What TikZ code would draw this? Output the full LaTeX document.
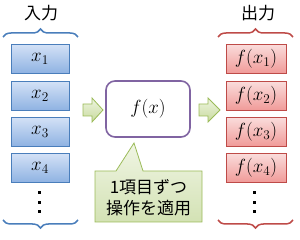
\RequirePackage{fix-cm}
\documentclass[tikz,border=0pt]{standalone}
\usepackage{fontspec}
\newfontfamily\jp{Noto Sans CJK JP}
\usetikzlibrary{decorations.pathreplacing}
\definecolor{bluebd}{HTML}{4A7EBB}
\definecolor{bluetop}{HTML}{D3E1F6}
\definecolor{bluebot}{HTML}{8EB2E2}
\definecolor{redbd}{HTML}{BE4B48}
\definecolor{redtop}{HTML}{FADCDB}
\definecolor{redbot}{HTML}{F09A98}
\definecolor{purplebd}{HTML}{8064A2}
\definecolor{greenbd}{HTML}{9BBB59}
\definecolor{greentop}{HTML}{F0F5E4}
\definecolor{greenbot}{HTML}{D3E2B4}
\definecolor{arrtop}{HTML}{EEF4E0}
\definecolor{arrbot}{HTML}{C8DB9E}
\begin{document}
\begin{tikzpicture}[x=1pt,y=1pt,
  inbox/.style={draw=bluebd, line width=0.8pt, top color=bluetop, bottom color=bluebot,
    minimum width=58pt, minimum height=29pt, inner sep=0pt, font=\fontsize{19}{19}\selectfont},
  outbox/.style={draw=redbd, line width=0.8pt, top color=redtop, bottom color=redbot,
    minimum width=60pt, minimum height=29pt, inner sep=0pt, font=\fontsize{19}{19}\selectfont},
  heading/.style={font=\jp\fontsize{17}{17}\selectfont, inner sep=0pt},
  bracestyle/.style={decorate, decoration={brace, amplitude=8pt}, line width=1.5pt},
  blockarrow/.style={draw=greenbd, line width=0.8pt, top color=arrtop, bottom color=arrbot, line join=miter}
]
\useasboundingbox (0,0) rectangle (300,-240);

% headings
\node[heading] (inh) at (41,-13) {入力};
\node[heading] (outh) at (258,-13) {出力};

% braces
\draw[bracestyle, draw=bluebd] (3,-37) -- (78,-37);
\draw[bracestyle, draw=bluebd] (78,-220) -- (3,-220);
\draw[bracestyle, draw=redbd] (218,-37) -- (293,-37);
\draw[bracestyle, draw=redbd] (293,-220) -- (218,-220);

% input boxes
\node[inbox] (x1) at (40,-59) {$x_1$};
\node[inbox] (x2) at (40,-96) {$x_2$};
\node[inbox] (x3) at (40,-132) {$x_3$};
\node[inbox] (x4) at (40,-168) {$x_4$};

% output boxes
\node[outbox] (y1) at (256,-59) {$f(x_1)$};
\node[outbox] (y2) at (256,-96) {$f(x_2)$};
\node[outbox] (y3) at (256,-132) {$f(x_3)$};
\node[outbox] (y4) at (256,-168) {$f(x_4)$};

% dots
\foreach \yy in {193,203,212} {
  \fill (37.5,-\yy-1.5) rectangle ++(3,3);
  \fill (252.5,-\yy-1.5) rectangle ++(3,3);
}

% function box
\node[draw=purplebd, line width=1.6pt, rounded corners=9pt, fill=white,
  minimum width=84pt, minimum height=56pt, font=\fontsize{19}{19}\selectfont] (fx) at (148,-109) {$f(x)$};

% block arrows
\path[blockarrow] (83,-104) -- (92,-104) -- (92,-98) -- (103,-110) -- (92,-122) -- (92,-116) -- (83,-116) -- cycle;
\path[blockarrow] (199,-104) -- (208,-104) -- (208,-98) -- (220,-110) -- (208,-122) -- (208,-116) -- (199,-116) -- cycle;

% callout
\coordinate (tip) at (134,-143);
\path[draw=greenbd, line width=0.8pt, top color=greentop, bottom color=greenbot, line join=miter]
  (95,-171) -- (116,-171) -- (tip) -- (143,-171) -- (202,-171) -- (202,-222) -- (95,-222) -- cycle;
\node[align=center, font=\jp\fontsize{17}{21}\selectfont, inner sep=0pt] (note) at (148.5,-197.5) {1項目ずつ\\操作を適用};
\end{tikzpicture}
\end{document}
